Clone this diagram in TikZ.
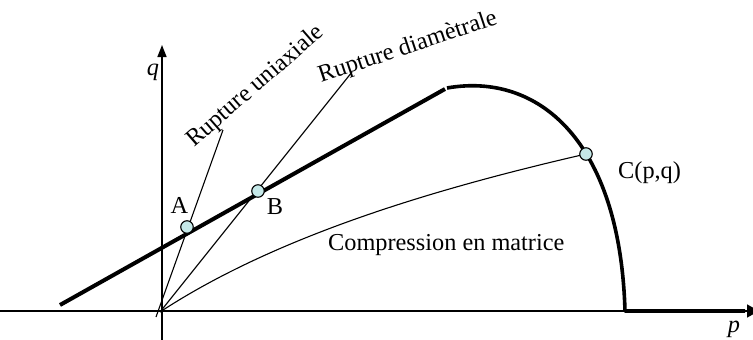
\documentclass[tikz,border=0pt]{standalone}
\usepackage{fontspec}
\setmainfont{Liberation Serif}
\usetikzlibrary{arrows.meta}
\definecolor{ptfill}{RGB}{197,232,232}
\begin{document}
\begin{tikzpicture}[x=1pt,y=-1pt,
  axisline/.style={line width=1.6pt},
  ray/.style={line width=1.1pt},
  envelope/.style={line width=4pt},
  capline/.style={line width=3.6pt, line join=round},
  ptnode/.style={circle, draw, fill=ptfill, line width=1.1pt, minimum size=12.5pt, inner sep=0pt},
  lbl/.style={font=\fontsize{24.3}{27}\selectfont, inner sep=0pt}]
\useasboundingbox (0,0) rectangle (753,340);
\clip (0,0) rectangle (753,340);
% coordinates
\coordinate (Xs) at (0,311);
\coordinate (Xe) at (759,311);
\coordinate (Ys) at (162,340);
\coordinate (Ye) at (162,45);
\coordinate (O) at (160,312);
\coordinate (Ob) at (156,317);
\coordinate (Ae) at (223,130);
\coordinate (Be) at (352,72);
\coordinate (E1) at (60,305);
\coordinate (E2) at (445,89);
\coordinate (K1) at (447,88);
\coordinate (K2) at (625,311);
\coordinate (K3) at (745,311);
\coordinate (Cp) at (586,154);
% axes
\draw[axisline, -{Triangle[length=12pt,width=13pt]}] (Xs) -- (Xe);
\draw[axisline, -{Triangle[length=12pt,width=9pt]}] (Ys) -- (Ye);
% rays
\draw[ray] (Ob) -- (Ae);
\draw[ray] (O) -- (Be);
\draw[ray] (O) .. controls (270,240) and (420,192) .. (Cp);
% envelope and cap
\draw[envelope] (E1) -- (E2);
\draw[capline] (K1) .. controls (538,72) and (620,140) .. (K2) -- (K3);
% points
\node[ptnode] (A) at (187,227) {};
\node[ptnode] (B) at (258,191) {};
\node[ptnode] (C) at (Cp) {};
% labels
\node[lbl, anchor=base] at (179.5,213) {A};
\node[lbl, anchor=base] at (275,214) {B};
\node[lbl, anchor=base west] at (618,178) {C(p,q)};
\node[lbl, anchor=base west] at (328,250) {Compression en matrice};
\node[lbl, anchor=base west, rotate=41] at (194,148) {Rupture uniaxiale};
\node[lbl, anchor=base west, rotate=18.5] at (321,83) {Rupture diamètrale};
\node[lbl] at (153,72) {\textit{q}};
\node[lbl] at (734,329) {\textit{p}};
\end{tikzpicture}
\end{document}
